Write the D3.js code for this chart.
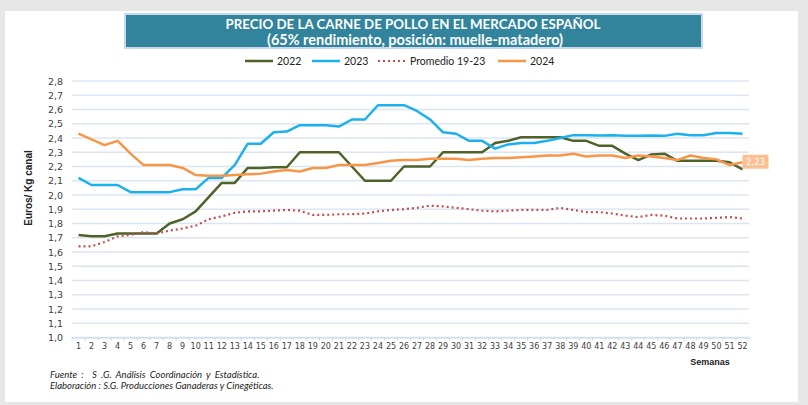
<!DOCTYPE html>
<html>
<head>
<meta charset="utf-8">
<script src="https://cdn.jsdelivr.net/npm/d3@7"></script>
<style>
  body { margin: 0; background: #e7e7e7; }
  svg { display: block; }
</style>
</head>
<body>
<svg width="808" height="405"></svg>
<script>
// semanas 1..52
var weeks = d3.range(1, 53);

var s2022 = [1.72,1.71,1.71,1.73,1.73,1.73,1.73,1.80,1.83,1.885,1.985,2.085,2.085,2.19,2.19,2.195,2.195,2.30,
  2.30,2.30,2.30,2.20,2.10,2.10,2.10,2.20,2.20,2.20,2.30,2.30,2.30,2.30,2.365,2.38,2.405,2.405,2.405,2.405,
  2.38,2.38,2.345,2.345,2.29,2.245,2.285,2.29,2.24,2.24,2.24,2.24,2.23,2.18];

var s2023 = [2.12,2.07,2.07,2.07,2.02,2.02,2.02,2.02,2.04,2.04,2.12,2.12,2.21,2.36,2.36,2.44,2.445,2.49,
  2.49,2.49,2.48,2.53,2.53,2.63,2.63,2.63,2.59,2.53,2.44,2.43,2.38,2.38,2.325,2.355,2.365,2.365,2.38,2.40,
  2.42,2.42,2.418,2.42,2.415,2.415,2.418,2.415,2.43,2.42,2.42,2.435,2.435,2.43];

var promedio = [1.64,1.64,1.67,1.71,1.72,1.74,1.73,1.75,1.765,1.785,1.83,1.85,1.875,1.885,1.885,1.89,1.895,1.89,
  1.86,1.86,1.865,1.865,1.87,1.885,1.895,1.90,1.91,1.925,1.92,1.91,1.90,1.89,1.885,1.89,1.895,1.895,1.895,1.91,
  1.895,1.88,1.88,1.87,1.855,1.845,1.86,1.855,1.835,1.835,1.835,1.84,1.845,1.835];

var s2024 = [2.43,2.39,2.35,2.38,2.29,2.21,2.21,2.21,2.19,2.14,2.135,2.135,2.14,2.145,2.15,2.165,2.175,2.165,
  2.19,2.19,2.21,2.21,2.21,2.225,2.24,2.245,2.245,2.255,2.255,2.255,2.245,2.255,2.26,2.26,2.265,2.27,2.277,2.277,
  2.29,2.27,2.277,2.277,2.26,2.277,2.27,2.26,2.245,2.277,2.26,2.25,2.21,2.23];

var yTicks = [1.0,1.1,1.2,1.3,1.4,1.5,1.6,1.7,1.8,1.9,2.0,2.1,2.2,2.3,2.4,2.5,2.6,2.7,2.8];

var series = [
  { name: "2022", values: s2022, color: "#4f6228", dots: false },
  { name: "2023", values: s2023, color: "#1cb0ec", dots: false },
  { name: "Promedio 19-23", values: promedio, color: "#c0504d", dots: true },
  { name: "2024", values: s2024, color: "#f79646", dots: false }
];

var svg = d3.select("svg");
var coma = d3.format(".1f");

// panel blanco
svg.append("rect").attr("x", 5).attr("y", 11).attr("width", 793).attr("height", 391).attr("fill", "#fff");

// titulo
svg.append("rect").attr("x", 125).attr("y", 14).attr("width", 577).attr("height", 34)
  .attr("fill", "#31849b").attr("stroke", "#c6d9f1").attr("stroke-width", 2);
svg.append("text").attr("x", 413).attr("y", 29).attr("text-anchor", "middle")
  .style("font-family", "Lato").style("font-weight", "bold").style("font-size", "13.3px").style("fill", "#fff")
  .text("PRECIO DE LA CARNE DE POLLO EN EL MERCADO ESPAÑOL");
svg.append("text").attr("x", 415).attr("y", 45).attr("text-anchor", "middle")
  .style("font-family", "Lato").style("font-weight", "bold").style("font-size", "14.5px").style("fill", "#fff")
  .text("(65% rendimiento, posición: muelle-matadero)");

var x = d3.scaleBand().domain(weeks).range([72, 749]);
var y = d3.scaleLinear().domain([1.0, 2.8]).range([337.5, 81]);

// rejilla
svg.append("g").selectAll("line").data(yTicks).enter().append("line")
  .attr("x1", 72).attr("x2", 749)
  .attr("y1", d => y(d)).attr("y2", d => y(d))
  .style("stroke", "#dce6f2").style("stroke-width", 1.5);

var yAxis = d3.axisLeft(y).tickValues(yTicks).tickSize(0).tickPadding(9)
  .tickFormat(d => coma(d).replace(".", ","));
var gy = svg.append("g").attr("transform", "translate(72,0)").call(yAxis);
gy.select(".domain").remove();
gy.selectAll("text").style("font-family", "DejaVu Sans").style("font-size", "9.5px").style("fill", "#404040");

var xAxis = d3.axisBottom(x).tickSize(0).tickPadding(6);
var gx = svg.append("g").attr("transform", "translate(0," + y(1.0) + ")").call(xAxis);
gx.select(".domain").style("stroke", "#c6d9f1");
gx.selectAll("text").style("font-family", "DejaVu Sans").style("font-size", "8px").style("fill", "#404040");
// marcas entre semanas
gx.append("g").selectAll("line").data(d3.range(53)).enter().append("line")
  .attr("x1", d => 72 + d * x.step()).attr("x2", d => 72 + d * x.step())
  .attr("y1", 0).attr("y2", 3).style("stroke", "#c6d9f1");

// lineas
var line = d3.line().x((d, i) => x(weeks[i]) + x.bandwidth() / 2).y(d => y(d));
series.forEach(function(s) {
  var p = svg.append("path").datum(s.values).attr("d", line)
    .attr("fill", "none").attr("stroke", s.color)
    .attr("stroke-width", s.dots ? 2.2 : 2.5).attr("stroke-linejoin", "round");
  if (s.dots) p.attr("stroke-dasharray", "2,3");
});

// etiqueta ultimo valor 2024
var last = s2024[s2024.length - 1];
var lx = x(52) + x.bandwidth() / 2;
svg.append("rect").attr("x", lx).attr("y", y(last) - 7.5).attr("width", 26).attr("height", 14)
  .attr("fill", "#fac090");
svg.append("text").attr("x", lx + 13).attr("y", y(last) + 3).attr("text-anchor", "middle")
  .style("font-family", "DejaVu Sans").style("font-size", "8.5px").style("fill", "#fff")
  .text(d3.format(".2f")(last).replace(".", ","));

// leyenda
var legX = [245, 312, 378, 498];
var leg = svg.append("g").selectAll("g").data(series).enter().append("g")
  .attr("transform", (d, i) => "translate(" + legX[i] + ",61)");
leg.append("line").attr("x1", 0).attr("x2", 28).attr("y1", 0).attr("y2", 0)
  .attr("stroke", d => d.color).attr("stroke-width", d => d.dots ? 2 : 2.5)
  .attr("stroke-dasharray", d => d.dots ? "2,3" : null);
leg.append("text").attr("x", 32).attr("y", 3.5)
  .style("font-family", "Lato").style("font-size", "10.5px").style("fill", "#222")
  .text(d => d.name);

// titulos de ejes
svg.append("text").attr("transform", "translate(32,188) rotate(-90)").attr("text-anchor", "middle")
  .style("font-family", "Liberation Sans").style("font-weight", "bold").style("font-size", "10px").style("fill", "#222")
  .text("Euros/ Kg canal");
svg.append("text").attr("x", 710).attr("y", 365).attr("text-anchor", "middle")
  .style("font-family", "Liberation Sans").style("font-weight", "bold").style("font-size", "9px").style("fill", "#222")
  .text("Semanas");

// fuente
svg.append("text").attr("x", 50).attr("y", 378).style("white-space", "pre").style("word-spacing", "2px")
  .style("font-family", "Lato").style("font-style", "italic").style("font-size", "9.5px").style("fill", "#222")
  .text("Fuente :  S .G. Análisis Coordinación y Estadística.");
svg.append("text").attr("x", 50).attr("y", 389)
  .style("font-family", "Lato").style("font-style", "italic").style("font-size", "9.5px").style("fill", "#222")
  .text("Elaboración : S.G. Producciones Ganaderas y Cinegéticas.");
</script>
</body>
</html>
